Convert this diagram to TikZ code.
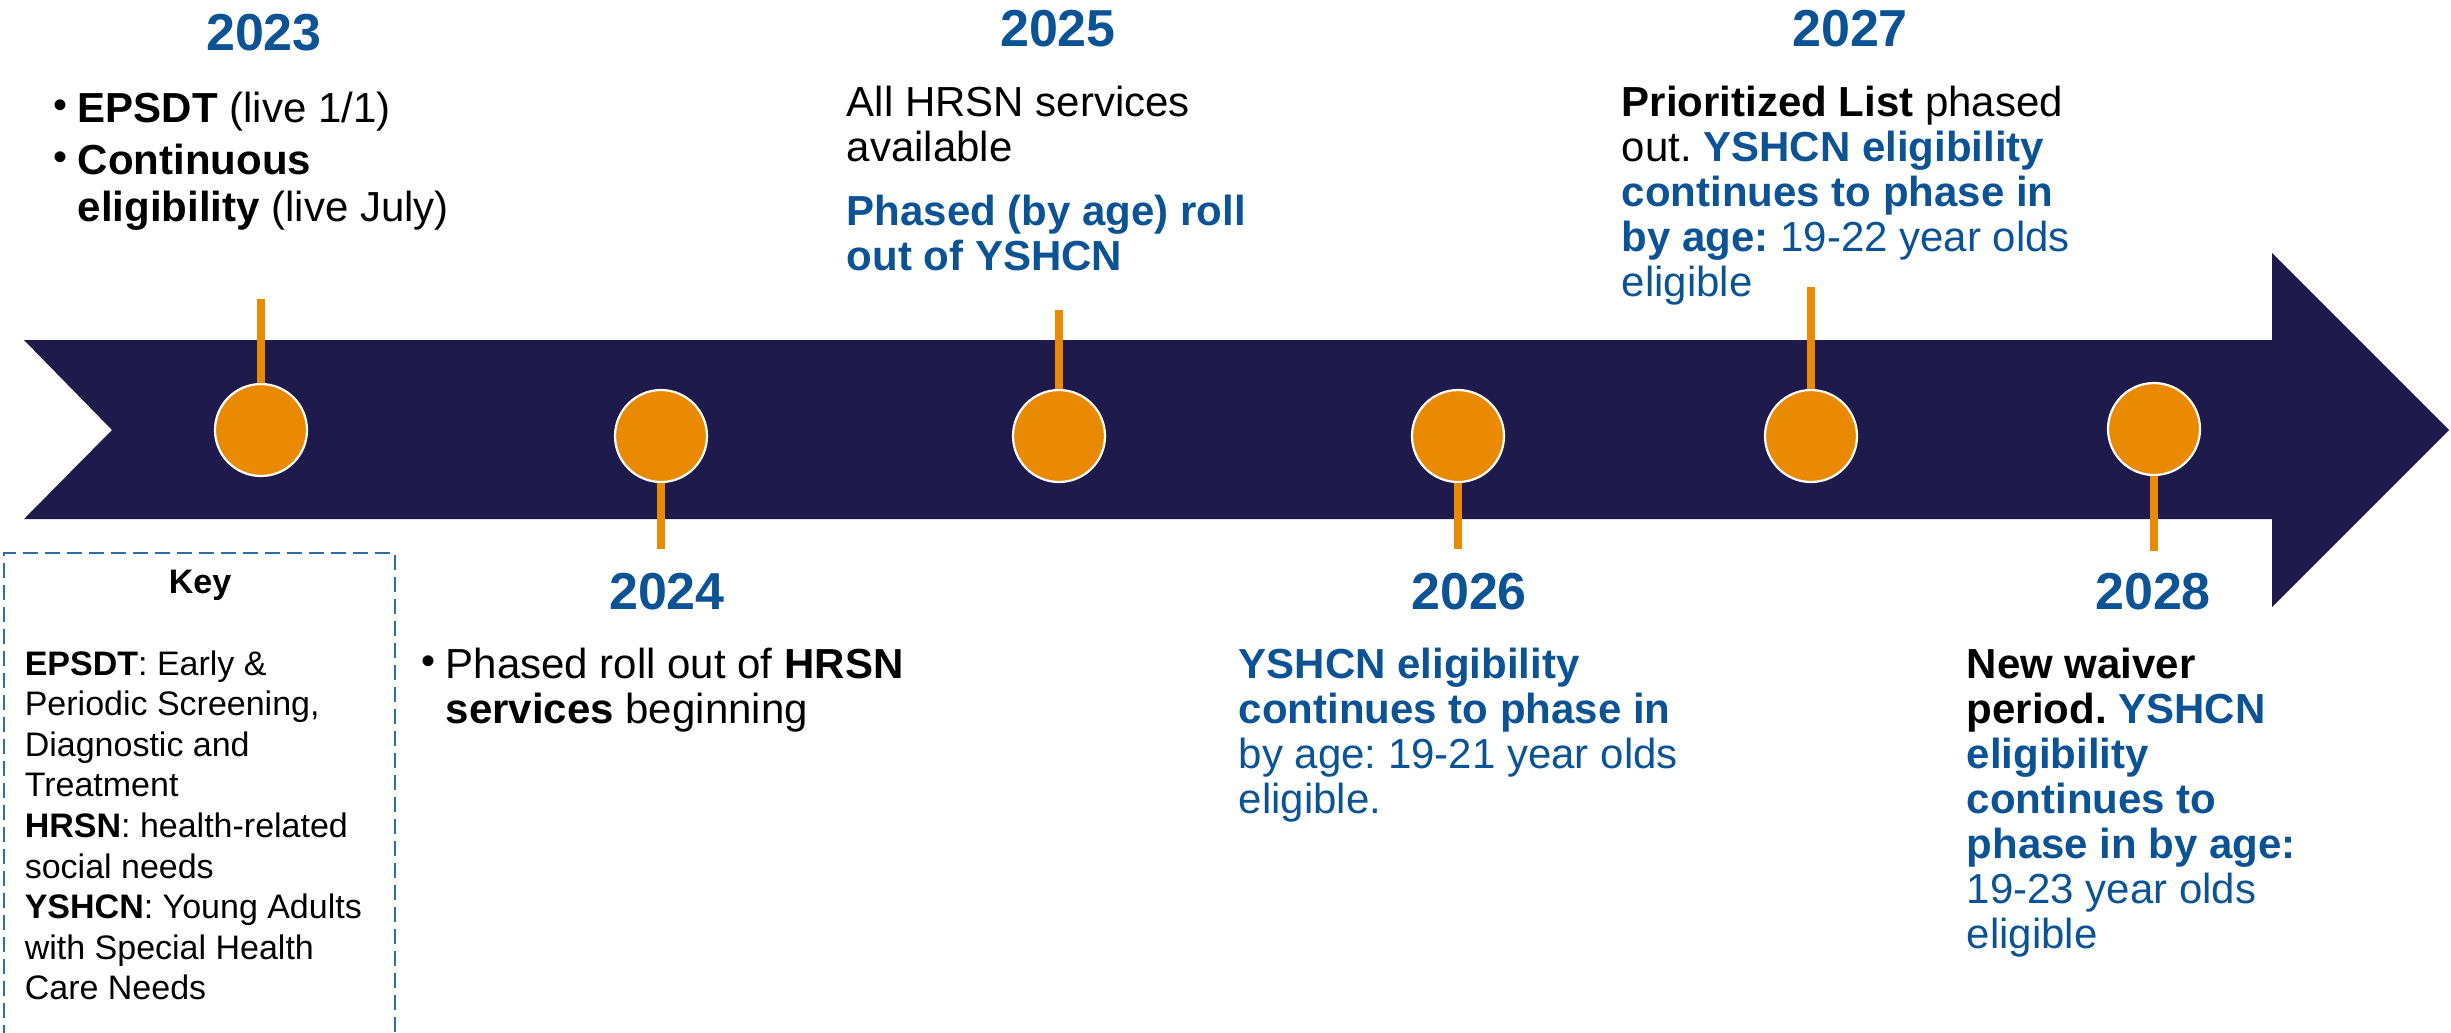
\documentclass[tikz,border=0pt]{standalone}
\usepackage{fontspec}
\setmainfont{Liberation Sans}
\frenchspacing
\definecolor{navy}{HTML}{1F1A4C}
\definecolor{orng}{HTML}{EA8A03}
\definecolor{tblue}{HTML}{0B5394}
\definecolor{kblue}{HTML}{2E6EA6}
\newcommand{\tlbullet}[1]{\makebox[#1][l]{\raisebox{0.8pt}{\fontsize{10pt}{10pt}\selectfont•}}}
\begin{document}
\begin{tikzpicture}[x=0.25pt,y=-0.25pt,
  yearlbl/.style={anchor=base, inner sep=0pt, text=tblue, font=\fontsize{13pt}{15pt}\selectfont\bfseries},
  bodytxt/.style={anchor=base west, inner sep=0pt, font=\fontsize{10.5pt}{11.25pt}\selectfont},
  keytxt/.style={anchor=base west, inner sep=0pt, font=\fontsize{8.5pt}{10.15pt}\selectfont},
  dot/.style={circle, fill=orng, draw=white, line width=0.55pt, minimum size=23pt, inner sep=0pt},
  stem/.style={draw=orng, line width=2pt}]
\path[use as bounding box] (0,0) rectangle (2451,1032);
% arrow
\fill[navy] (24,340) -- (2272,340) -- (2272,253) -- (2449,430) -- (2272,607) -- (2272,519) -- (24,519) -- (112,430) -- cycle;
% circles
\node[dot] (c23) at (261,430) {};
\node[dot] (c24) at (661,436) {};
\node[dot] (c25) at (1059,436) {};
\node[dot] (c26) at (1458,436) {};
\node[dot] (c27) at (1811,436) {};
\node[dot] (c28) at (2154,429) {};
\coordinate (t23) at (261,299);
\coordinate (t24) at (661,549);
\coordinate (t25) at (1059,310);
\coordinate (t26) at (1458,549);
\coordinate (t27) at (1811,287);
\coordinate (t28) at (2154,551);
\draw[stem] (c23.north) -- (t23);
\draw[stem] (c24.south) -- (t24);
\draw[stem] (c25.north) -- (t25);
\draw[stem] (c26.south) -- (t26);
\draw[stem] (c27.north) -- (t27);
\draw[stem] (c28.south) -- (t28);
% years
\node[yearlbl] (y23) at (264,50) {2023};
\node[yearlbl] (y25) at (1058,46) {2025};
\node[yearlbl] (y27) at (1850,46) {2027};
\node[yearlbl] (y24) at (667,609) {2024};
\node[yearlbl] (y26) at (1469,609) {2026};
\node[yearlbl] (y28) at (2153,609) {2028};
% texts
\node[bodytxt] (d23) at (53,122) {\parbox[t]{160pt}{\raggedright\baselineskip=11.75pt
  {\hangindent=6pt\hangafter=1\noindent\tlbullet{6pt}\textbf{EPSDT} (live 1/1)\par}\vspace{1.25pt}
  {\hangindent=6pt\hangafter=1\noindent\tlbullet{6pt}\textbf{Continuous}\newline\textbf{eligibility} (live July)\par}}};
\node[bodytxt] (d24) at (421,678) {\parbox[t]{160pt}{\raggedright
  {\hangindent=6pt\hangafter=1\noindent\tlbullet{6pt}Phased roll out of \textbf{HRSN}\newline\textbf{services} beginning\par}}};
\node[bodytxt] (d25) at (846,116) {\parbox[t]{160pt}{\raggedright
  All HRSN services\\available\par\vspace{4.75pt}
  {\noindent\color{tblue}\bfseries Phased (by age) roll\\out of YSHCN\par}}};
\node[bodytxt] (d26) at (1238,678) {\parbox[t]{160pt}{\raggedright\noindent\color{tblue}%
  \textbf{YSHCN eligibility}\\\textbf{continues to phase in}\\by age: 19-21 year olds\\eligible.\par}};
\node[bodytxt] (d27) at (1621,116) {\parbox[t]{160pt}{\raggedright
  \textbf{Prioritized List} phased\\out. {\color{tblue}\textbf{YSHCN eligibility}\\\textbf{continues to phase in}\\\textbf{by age:} 19-22 year olds\\eligible}\par}};
\node[bodytxt] (d28) at (1966,678) {\parbox[t]{160pt}{\raggedright
  \textbf{New waiver}\\\textbf{period.} {\color{tblue}\textbf{YSHCN}\\\textbf{eligibility}\\\textbf{continues to}\\\textbf{phase in by age:}\\19-23 year olds\\eligible}\par}};
% key
\draw[kblue, line width=0.5pt, dash pattern=on 3.75pt off 1.75pt] (4,1040) -- (4,553) -- (395,553) -- (395,1040);
\node[anchor=base, inner sep=0pt, font=\fontsize{8.5pt}{10pt}\selectfont\bfseries] (keyt) at (200,593) {Key};
\node[keytxt] (keyb) at (24,675) {\parbox[t]{120pt}{\raggedright
  \textbf{EPSDT}: Early \&\\Periodic Screening,\\Diagnostic and\\Treatment\\\textbf{HRSN}: health-related\\social needs\\\textbf{YSHCN}: Young Adults\\with Special Health\\Care Needs\par}};
\end{tikzpicture}
\end{document}
